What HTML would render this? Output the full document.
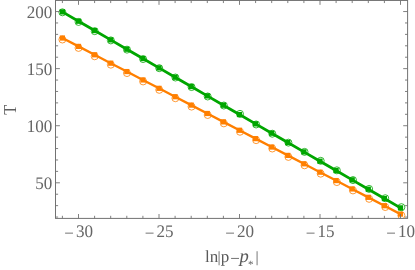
<!DOCTYPE html><html><head><meta charset="utf-8"><title>plot</title><style>html,body{margin:0;padding:0;background:#fff;}svg{display:block;text-rendering:geometricPrecision;will-change:transform;font-family:"Liberation Serif",serif;}</style></head><body>
<svg width="415" height="270" viewBox="0 0 415 270">
<rect width="415" height="270" fill="#fff"/>
<clipPath id="c"><rect x="55.50" y="0.45" width="352.10" height="218.25"/></clipPath><g clip-path="url(#c)">
<polyline fill="none" stroke="#ff7f00" stroke-width="2.35" stroke-linejoin="round" points="62.40,38.02 78.50,46.41 94.60,54.79 110.70,63.18 126.80,71.56 142.90,79.95 159.00,88.33 175.10,96.72 191.20,105.10 207.30,113.49 223.40,121.87 239.50,130.26 255.60,138.64 271.70,147.03 287.80,155.41 303.90,163.80 320.00,172.18 336.10,180.57 352.20,188.95 368.30,197.34 384.40,205.72 400.50,214.11"/>
<circle cx="62.40" cy="39.52" r="3.5" fill="none" stroke="#ff7f00" stroke-width="0.8"/>
<circle cx="78.54" cy="47.91" r="3.5" fill="none" stroke="#ff7f00" stroke-width="0.8"/>
<circle cx="94.69" cy="56.29" r="3.5" fill="none" stroke="#ff7f00" stroke-width="0.8"/>
<circle cx="110.83" cy="64.68" r="3.5" fill="none" stroke="#ff7f00" stroke-width="0.8"/>
<circle cx="126.97" cy="73.06" r="3.5" fill="none" stroke="#ff7f00" stroke-width="0.8"/>
<circle cx="143.11" cy="81.45" r="3.5" fill="none" stroke="#ff7f00" stroke-width="0.8"/>
<circle cx="159.26" cy="89.83" r="3.5" fill="none" stroke="#ff7f00" stroke-width="0.8"/>
<circle cx="175.40" cy="98.22" r="3.5" fill="none" stroke="#ff7f00" stroke-width="0.8"/>
<circle cx="191.54" cy="106.60" r="3.5" fill="none" stroke="#ff7f00" stroke-width="0.8"/>
<circle cx="207.69" cy="114.99" r="3.5" fill="none" stroke="#ff7f00" stroke-width="0.8"/>
<circle cx="223.83" cy="123.37" r="3.5" fill="none" stroke="#ff7f00" stroke-width="0.8"/>
<circle cx="239.97" cy="131.76" r="3.5" fill="none" stroke="#ff7f00" stroke-width="0.8"/>
<circle cx="256.11" cy="140.14" r="3.5" fill="none" stroke="#ff7f00" stroke-width="0.8"/>
<circle cx="272.26" cy="148.53" r="3.5" fill="none" stroke="#ff7f00" stroke-width="0.8"/>
<circle cx="288.40" cy="156.91" r="3.5" fill="none" stroke="#ff7f00" stroke-width="0.8"/>
<circle cx="304.54" cy="165.30" r="3.5" fill="none" stroke="#ff7f00" stroke-width="0.8"/>
<circle cx="320.69" cy="173.68" r="3.5" fill="none" stroke="#ff7f00" stroke-width="0.8"/>
<circle cx="336.83" cy="182.07" r="3.5" fill="none" stroke="#ff7f00" stroke-width="0.8"/>
<circle cx="352.97" cy="190.45" r="3.5" fill="none" stroke="#ff7f00" stroke-width="0.8"/>
<circle cx="369.11" cy="198.84" r="3.5" fill="none" stroke="#ff7f00" stroke-width="0.8"/>
<circle cx="385.26" cy="207.02" r="3.5" fill="none" stroke="#ff7f00" stroke-width="0.8"/>
<circle cx="401.40" cy="215.41" r="3.5" fill="none" stroke="#ff7f00" stroke-width="0.8"/>
<rect x="59.80" y="35.42" width="5.2" height="5.2" fill="#ff7f00"/>
<rect x="75.90" y="43.81" width="5.2" height="5.2" fill="#ff7f00"/>
<rect x="92.00" y="52.19" width="5.2" height="5.2" fill="#ff7f00"/>
<rect x="108.10" y="60.58" width="5.2" height="5.2" fill="#ff7f00"/>
<rect x="124.20" y="68.96" width="5.2" height="5.2" fill="#ff7f00"/>
<rect x="140.30" y="77.35" width="5.2" height="5.2" fill="#ff7f00"/>
<rect x="156.40" y="85.73" width="5.2" height="5.2" fill="#ff7f00"/>
<rect x="172.50" y="94.12" width="5.2" height="5.2" fill="#ff7f00"/>
<rect x="188.60" y="102.50" width="5.2" height="5.2" fill="#ff7f00"/>
<rect x="204.70" y="110.89" width="5.2" height="5.2" fill="#ff7f00"/>
<rect x="220.80" y="119.27" width="5.2" height="5.2" fill="#ff7f00"/>
<rect x="236.90" y="127.66" width="5.2" height="5.2" fill="#ff7f00"/>
<rect x="253.00" y="136.04" width="5.2" height="5.2" fill="#ff7f00"/>
<rect x="269.10" y="144.43" width="5.2" height="5.2" fill="#ff7f00"/>
<rect x="285.20" y="152.81" width="5.2" height="5.2" fill="#ff7f00"/>
<rect x="301.30" y="161.20" width="5.2" height="5.2" fill="#ff7f00"/>
<rect x="317.40" y="169.58" width="5.2" height="5.2" fill="#ff7f00"/>
<rect x="333.50" y="177.97" width="5.2" height="5.2" fill="#ff7f00"/>
<rect x="349.60" y="186.35" width="5.2" height="5.2" fill="#ff7f00"/>
<rect x="365.70" y="194.74" width="5.2" height="5.2" fill="#ff7f00"/>
<rect x="381.80" y="203.12" width="5.2" height="5.2" fill="#ff7f00"/>
<rect x="397.90" y="211.51" width="5.2" height="5.2" fill="#ff7f00"/>
<polyline fill="none" stroke="#00a600" stroke-width="2.8" stroke-linejoin="round" points="62.40,11.90 78.50,21.23 94.60,30.56 110.70,39.90 126.80,49.23 142.90,58.56 159.00,67.89 175.10,77.22 191.20,86.56 207.30,95.89 223.40,105.22 239.50,114.55 255.60,123.88 271.70,133.21 287.80,142.55 303.90,151.88 320.00,161.21 336.10,170.54 352.20,179.87 368.30,189.21 384.40,198.54 400.50,207.87"/>
<circle cx="62.40" cy="12.30" r="3.5" fill="none" stroke="#00a600" stroke-width="0.8"/>
<circle cx="78.54" cy="21.93" r="3.5" fill="none" stroke="#00a600" stroke-width="0.8"/>
<circle cx="94.69" cy="31.16" r="3.5" fill="none" stroke="#00a600" stroke-width="0.8"/>
<circle cx="110.83" cy="40.40" r="3.5" fill="none" stroke="#00a600" stroke-width="0.8"/>
<circle cx="126.97" cy="49.63" r="3.5" fill="none" stroke="#00a600" stroke-width="0.8"/>
<circle cx="143.11" cy="59.06" r="3.5" fill="none" stroke="#00a600" stroke-width="0.8"/>
<circle cx="159.26" cy="68.19" r="3.5" fill="none" stroke="#00a600" stroke-width="0.8"/>
<circle cx="175.40" cy="77.52" r="3.5" fill="none" stroke="#00a600" stroke-width="0.8"/>
<circle cx="191.54" cy="87.06" r="3.5" fill="none" stroke="#00a600" stroke-width="0.8"/>
<circle cx="207.69" cy="96.49" r="3.5" fill="none" stroke="#00a600" stroke-width="0.8"/>
<circle cx="223.83" cy="105.52" r="3.5" fill="none" stroke="#00a600" stroke-width="0.8"/>
<circle cx="239.97" cy="113.85" r="3.5" fill="none" stroke="#00a600" stroke-width="0.8"/>
<circle cx="256.11" cy="124.48" r="3.5" fill="none" stroke="#00a600" stroke-width="0.8"/>
<circle cx="272.26" cy="133.71" r="3.5" fill="none" stroke="#00a600" stroke-width="0.8"/>
<circle cx="288.40" cy="142.65" r="3.5" fill="none" stroke="#00a600" stroke-width="0.8"/>
<circle cx="304.54" cy="151.88" r="3.5" fill="none" stroke="#00a600" stroke-width="0.8"/>
<circle cx="320.69" cy="160.81" r="3.5" fill="none" stroke="#00a600" stroke-width="0.8"/>
<circle cx="336.83" cy="170.34" r="3.5" fill="none" stroke="#00a600" stroke-width="0.8"/>
<circle cx="352.97" cy="180.07" r="3.5" fill="none" stroke="#00a600" stroke-width="0.8"/>
<circle cx="369.11" cy="188.91" r="3.5" fill="none" stroke="#00a600" stroke-width="0.8"/>
<circle cx="385.26" cy="198.24" r="3.5" fill="none" stroke="#00a600" stroke-width="0.8"/>
<circle cx="401.40" cy="207.17" r="3.5" fill="none" stroke="#00a600" stroke-width="0.8"/>
<rect x="59.80" y="9.30" width="5.2" height="5.2" fill="#00a600"/>
<rect x="75.90" y="18.63" width="5.2" height="5.2" fill="#00a600"/>
<rect x="92.00" y="27.96" width="5.2" height="5.2" fill="#00a600"/>
<rect x="108.10" y="37.30" width="5.2" height="5.2" fill="#00a600"/>
<rect x="124.20" y="46.63" width="5.2" height="5.2" fill="#00a600"/>
<rect x="140.30" y="55.96" width="5.2" height="5.2" fill="#00a600"/>
<rect x="156.40" y="65.29" width="5.2" height="5.2" fill="#00a600"/>
<rect x="172.50" y="74.62" width="5.2" height="5.2" fill="#00a600"/>
<rect x="188.60" y="83.96" width="5.2" height="5.2" fill="#00a600"/>
<rect x="204.70" y="93.29" width="5.2" height="5.2" fill="#00a600"/>
<rect x="220.80" y="102.62" width="5.2" height="5.2" fill="#00a600"/>
<rect x="236.90" y="111.95" width="5.2" height="5.2" fill="#00a600"/>
<rect x="253.00" y="121.28" width="5.2" height="5.2" fill="#00a600"/>
<rect x="269.10" y="130.61" width="5.2" height="5.2" fill="#00a600"/>
<rect x="285.20" y="139.95" width="5.2" height="5.2" fill="#00a600"/>
<rect x="301.30" y="149.28" width="5.2" height="5.2" fill="#00a600"/>
<rect x="317.40" y="158.61" width="5.2" height="5.2" fill="#00a600"/>
<rect x="333.50" y="167.94" width="5.2" height="5.2" fill="#00a600"/>
<rect x="349.60" y="177.27" width="5.2" height="5.2" fill="#00a600"/>
<rect x="365.70" y="186.61" width="5.2" height="5.2" fill="#00a600"/>
<rect x="381.80" y="195.94" width="5.2" height="5.2" fill="#00a600"/>
<rect x="397.90" y="205.27" width="5.2" height="5.2" fill="#00a600"/>
</g>
<rect x="55.50" y="0.45" width="352.10" height="217.95" fill="none" stroke="#727272" stroke-width="1"/>
<path d="M62.40 218.40v-2.60M62.40 0.45v2.60M78.50 218.40v-4.40M78.50 0.45v4.40M94.60 218.40v-2.60M94.60 0.45v2.60M110.70 218.40v-2.60M110.70 0.45v2.60M126.80 218.40v-2.60M126.80 0.45v2.60M142.90 218.40v-2.60M142.90 0.45v2.60M159.00 218.40v-4.40M159.00 0.45v4.40M175.10 218.40v-2.60M175.10 0.45v2.60M191.20 218.40v-2.60M191.20 0.45v2.60M207.30 218.40v-2.60M207.30 0.45v2.60M223.40 218.40v-2.60M223.40 0.45v2.60M239.50 218.40v-4.40M239.50 0.45v4.40M255.60 218.40v-2.60M255.60 0.45v2.60M271.70 218.40v-2.60M271.70 0.45v2.60M287.80 218.40v-2.60M287.80 0.45v2.60M303.90 218.40v-2.60M303.90 0.45v2.60M320.00 218.40v-4.40M320.00 0.45v4.40M336.10 218.40v-2.60M336.10 0.45v2.60M352.20 218.40v-2.60M352.20 0.45v2.60M368.30 218.40v-2.60M368.30 0.45v2.60M384.40 218.40v-2.60M384.40 0.45v2.60M400.50 218.40v-4.40M400.50 0.45v4.40M55.50 217.05h2.60M407.60 217.05h-2.60M55.50 205.63h2.60M407.60 205.63h-2.60M55.50 194.22h2.60M407.60 194.22h-2.60M55.50 182.80h4.40M407.60 182.80h-4.40M55.50 171.38h2.60M407.60 171.38h-2.60M55.50 159.97h2.60M407.60 159.97h-2.60M55.50 148.55h2.60M407.60 148.55h-2.60M55.50 137.13h2.60M407.60 137.13h-2.60M55.50 125.72h4.40M407.60 125.72h-4.40M55.50 114.30h2.60M407.60 114.30h-2.60M55.50 102.88h2.60M407.60 102.88h-2.60M55.50 91.46h2.60M407.60 91.46h-2.60M55.50 80.05h2.60M407.60 80.05h-2.60M55.50 68.63h4.40M407.60 68.63h-4.40M55.50 57.21h2.60M407.60 57.21h-2.60M55.50 45.80h2.60M407.60 45.80h-2.60M55.50 34.38h2.60M407.60 34.38h-2.60M55.50 22.96h2.60M407.60 22.96h-2.60M55.50 11.55h4.40M407.60 11.55h-4.40" stroke="#727272" stroke-width="0.9" fill="none"/>
<text transform="translate(52.3,188.80) scale(0.965,1)" font-size="17.7" fill="#666666" text-anchor="end">50</text>
<text transform="translate(52.3,131.72) scale(0.965,1)" font-size="17.7" fill="#666666" text-anchor="end">100</text>
<text transform="translate(52.3,74.63) scale(0.965,1)" font-size="17.7" fill="#666666" text-anchor="end">150</text>
<text transform="translate(52.3,17.55) scale(0.965,1)" font-size="17.7" fill="#666666" text-anchor="end">200</text>
<text transform="translate(78.50,237.4) scale(0.965,1)" font-size="17.7" fill="#666666"><tspan x="-14.82" dy="1.3">−</tspan><tspan x="-2.69" dy="-1.3">30</tspan></text>
<text transform="translate(159.00,237.4) scale(0.965,1)" font-size="17.7" fill="#666666"><tspan x="-14.82" dy="1.3">−</tspan><tspan x="-2.69" dy="-1.3">25</tspan></text>
<text transform="translate(239.50,237.4) scale(0.965,1)" font-size="17.7" fill="#666666"><tspan x="-14.82" dy="1.3">−</tspan><tspan x="-2.69" dy="-1.3">20</tspan></text>
<text transform="translate(320.00,237.4) scale(0.965,1)" font-size="17.7" fill="#666666"><tspan x="-14.82" dy="1.3">−</tspan><tspan x="-2.69" dy="-1.3">15</tspan></text>
<text transform="translate(400.50,237.4) scale(0.965,1)" font-size="17.7" fill="#666666"><tspan x="-14.82" dy="1.3">−</tspan><tspan x="-2.69" dy="-1.3">10</tspan></text>
<text transform="translate(15.8,109.9) rotate(-90) scale(0.93,1.04)" font-size="17.5" fill="#5e5e5e" text-anchor="middle">T</text>
<text font-size="17" fill="#5a5a5a"><tspan x="205" y="262">ln</tspan><tspan x="217.55" y="262.4" font-size="15.6">|</tspan><tspan x="220.85" y="262">p</tspan><tspan x="230.2" y="264.3">−</tspan><tspan x="239.4" y="262" font-size="18.6" font-style="italic">p</tspan><tspan x="248.1" y="267.6" font-size="11">*</tspan><tspan x="255.45" y="262.4" font-size="15.6">|</tspan></text>
</svg></body></html>
